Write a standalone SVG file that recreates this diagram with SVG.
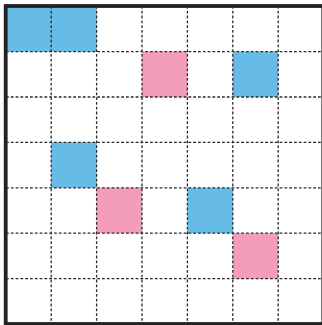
<svg xmlns="http://www.w3.org/2000/svg" width="322" height="325" viewBox="0 0 322 325">
<style>
.b{fill:#66bce6}
.p{fill:#f49cbb}
.g{stroke:#2a2a2a;stroke-width:1.3;stroke-dasharray:2.8 2;fill:none}
</style>
<rect width="322" height="325" fill="#fff"/>
<g id="cells">
<rect class="b" x="5.8" y="6.2" width="90.8" height="45.4"/>
<rect class="p" x="142" y="51.6" width="45.4" height="45.4"/>
<rect class="b" x="232.8" y="51.6" width="45.4" height="45.4"/>
<rect class="b" x="51.2" y="142.4" width="45.4" height="45.4"/>
<rect class="p" x="96.6" y="187.8" width="45.4" height="45.4"/>
<rect class="b" x="187.4" y="187.8" width="45.4" height="45.4"/>
<rect class="p" x="232.8" y="233.2" width="45.4" height="45.4"/>
</g>
<g id="grid" class="g">
<path d="M51.2 6V324M96.6 6V324M142 6V324M187.4 6V324M232.8 6V324M278.2 6V324"/>
<path d="M6 51.6H321M6 97H321M6 142.4H321M6 187.8H321M6 233.2H321M6 278.6H321"/>
</g>
<rect id="border" x="5.7" y="6" width="317.6" height="318" fill="none" stroke="#222" stroke-width="3.8"/>
</svg>
